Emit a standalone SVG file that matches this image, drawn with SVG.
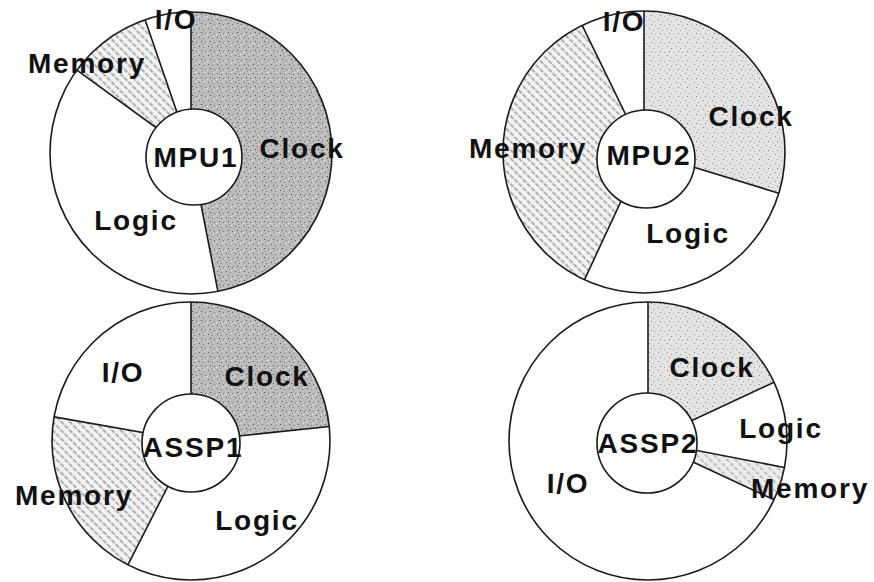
<svg xmlns="http://www.w3.org/2000/svg" width="874" height="582" viewBox="0 0 874 582">
<style>
.lbl{font-family:"Liberation Sans",Arial,sans-serif;font-size:28px;font-weight:bold;letter-spacing:1.8px;text-anchor:middle;fill:#111}
.outer{fill:none;stroke:#1a1a1a;stroke-width:1.6}
.bg{fill:#fff}
.inner{fill:#fff;stroke:#1a1a1a;stroke-width:1.6}
.div{stroke:#1a1a1a;stroke-width:1.6;fill:none}
</style>
<defs>
<pattern id="speckDark" width="9" height="9" patternUnits="userSpaceOnUse">
<rect width="9" height="9" fill="#bcbcbc"/>
<rect x="1" y="1" width="1" height="1" fill="#555"/>
<rect x="5" y="2" width="1" height="1" fill="#777"/>
<rect x="3" y="5" width="1" height="1" fill="#444"/>
<rect x="7" y="6" width="1" height="1" fill="#666"/>
<rect x="0" y="7" width="1" height="1" fill="#eee"/>
<rect x="6" y="0" width="1" height="1" fill="#eee"/>
<rect x="4" y="8" width="1" height="1" fill="#888"/>
</pattern>
<pattern id="speckLight" width="9" height="9" patternUnits="userSpaceOnUse">
<rect width="9" height="9" fill="#e3e3e3"/>
<rect x="1" y="1" width="1" height="1" fill="#888"/>
<rect x="5" y="3" width="1" height="1" fill="#999"/>
<rect x="3" y="6" width="1" height="1" fill="#777"/>
<rect x="7" y="7" width="1" height="1" fill="#aaa"/>
</pattern>
<pattern id="hatch" width="6" height="6" patternUnits="userSpaceOnUse" patternTransform="rotate(45)">
<rect width="6" height="6" fill="#f2f2f2"/>
<line x1="0" y1="3" x2="6" y2="3" stroke="#6a6a6a" stroke-width="1.1" stroke-dasharray="3 1.5"/>
</pattern>
<pattern id="hatchLight" width="6" height="6" patternUnits="userSpaceOnUse" patternTransform="rotate(45)">
<rect width="6" height="6" fill="#ececec"/>
<line x1="0" y1="3" x2="6" y2="3" stroke="#999" stroke-width="1" stroke-dasharray="2 2"/>
</pattern>
</defs>

<g id="mpu1">
<circle class="bg" cx="191" cy="153" r="141"/>
<path d="M191,153 L191,12 A141,141 0 0 1 217.9,291.4 Z" fill="url(#speckDark)"/>
<path d="M191,153 L76.9,70.1 A141,141 0 0 1 145.1,19.7 Z" fill="url(#hatch)"/>
<path class="div" d="M191,153 L191,12 M191,153 L217.9,291.4 M191,153 L76.9,70.1 M191,153 L145.1,19.7"/>
<circle class="outer" cx="191" cy="153" r="141"/>
<circle class="inner" cx="194" cy="157" r="48"/>
<text class="lbl" x="176" y="29">I/O</text>
<text class="lbl" x="87" y="73">Memory</text>
<text class="lbl" x="196" y="167">MPU1</text>
<text class="lbl" x="302" y="158">Clock</text>
<text class="lbl" x="136" y="230">Logic</text>
</g>

<g id="mpu2">
<circle class="bg" cx="644" cy="152" r="141"/>
<path d="M644,152 L644,11 A141,141 0 0 1 778.8,193.2 Z" fill="url(#speckLight)"/>
<path d="M644,152 L584.4,279.8 A141,141 0 0 1 582.2,25.3 Z" fill="url(#hatch)"/>
<path class="div" d="M644,152 L644,11 M644,152 L778.8,193.2 M644,152 L584.4,279.8 M644,152 L582.2,25.3"/>
<circle class="outer" cx="644" cy="152" r="141"/>
<circle class="inner" cx="646" cy="159" r="49"/>
<text class="lbl" x="624" y="31">I/O</text>
<text class="lbl" x="528" y="158">Memory</text>
<text class="lbl" x="649" y="165">MPU2</text>
<text class="lbl" x="751" y="126">Clock</text>
<text class="lbl" x="688" y="243">Logic</text>
</g>

<g id="assp1">
<circle class="bg" cx="191" cy="441" r="139"/>
<path d="M191,441 L191,302 A139,139 0 0 1 329.2,426.5 Z" fill="url(#speckDark)"/>
<path d="M191,441 L127.9,564.8 A139,139 0 0 1 54.1,416.9 Z" fill="url(#hatch)"/>
<path class="div" d="M191,441 L191,302 M191,441 L329.2,426.5 M191,441 L127.9,564.8 M191,441 L54.1,416.9"/>
<circle class="outer" cx="191" cy="441" r="139"/>
<circle class="inner" cx="191" cy="443" r="49"/>
<text class="lbl" x="123" y="382">I/O</text>
<text class="lbl" x="267" y="386">Clock</text>
<text class="lbl" x="193" y="457">ASSP1</text>
<text class="lbl" x="74" y="505">Memory</text>
<text class="lbl" x="257" y="530">Logic</text>
</g>

<g id="assp2">
<circle class="bg" cx="648" cy="441" r="139"/>
<path d="M648,441 L648,302 A139,139 0 0 1 774,382.3 Z" fill="url(#speckLight)"/>
<path d="M648,441 L784.4,467.5 A139,139 0 0 1 774,499.7 Z" fill="url(#hatchLight)"/>
<path class="div" d="M648,441 L648,302 M648,441 L774,382.3 M648,441 L784.4,467.5 M648,441 L774,499.7"/>
<circle class="outer" cx="648" cy="441" r="139"/>
<circle class="inner" cx="647" cy="443" r="50"/>
<text class="lbl" x="712" y="377">Clock</text>
<text class="lbl" x="781" y="438">Logic</text>
<text class="lbl" x="648" y="453">ASSP2</text>
<text class="lbl" x="568" y="493">I/O</text>
<text class="lbl" x="810" y="498">Memory</text>
</g>
</svg>
